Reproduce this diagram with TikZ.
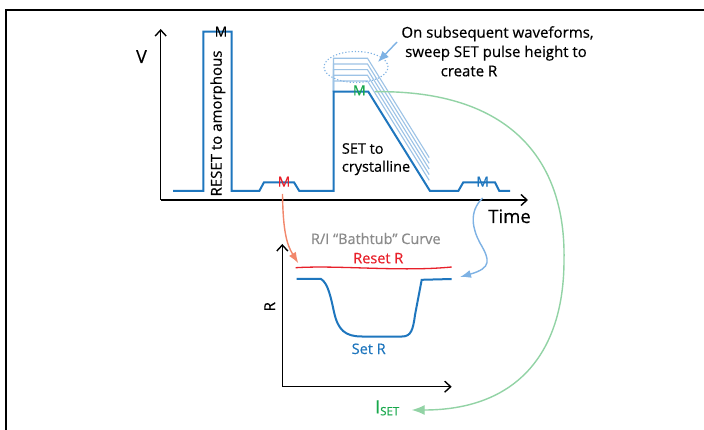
\documentclass[tikz,border=0pt]{standalone}
\usepackage{fontspec}
\setmainfont{Open Sans}[FakeBold=0.45]
\usetikzlibrary{arrows.meta}
\definecolor{mainblue}{HTML}{1E76BE}
\definecolor{lightblue}{HTML}{9DC3E6}
\definecolor{arrowblue}{HTML}{7EB2E4}
\definecolor{mgreen}{HTML}{17A84B}
\definecolor{lgreen}{HTML}{92D3A5}
\definecolor{mred}{HTML}{E8202A}
\definecolor{salmon}{HTML}{F2876B}
\definecolor{tgray}{HTML}{8A8A8A}
\begin{document}
\begin{tikzpicture}[x=1pt,y=-1pt,
  wave/.style={mainblue, line width=2pt, line join=miter},
  sweep/.style={lightblue, line width=1.1pt},
  axis/.style={black, line width=1.4pt, -{Straight Barb[length=6pt,width=11pt]}},
  lbl/.style={inner sep=0pt, anchor=base},
  mk/.style={lbl, font=\fontsize{14}{14}\selectfont},
  txt/.style={lbl, font=\fontsize{14.5}{18}\selectfont},
  conn/.style={line width=1.4pt},
]
\useasboundingbox (0,0) rectangle (704,430);
\fill[white] (0,0) rectangle (704,430);
\draw[line width=2pt] (706,10) -- (6,10) -- (6,432);

% top chart axes
\coordinate (O1) at (160.7,200);
\coordinate (Vtop) at (160.7,29);
\coordinate (Tend) at (528,200);
\draw[axis] (O1) -- (Vtop);
\draw[axis] (O1) -- (Tend);
\node[lbl, font=\fontsize{18}{18}\selectfont] (V) at (141.5,63) {V};
\node[lbl, font=\fontsize{18.5}{18.5}\selectfont] (time) at (509.5,223) {Time};

% sweep lines
\foreach \y in {58.3,64,69.7,75.3,81}{
  \draw[sweep] (333.5,91.7) -- (333.5,\y) -- (367.5,\y) -- ++(61.7,99.3);
}
\draw[arrowblue, line width=1.1pt, dash pattern=on 1.2pt off 2pt] (356,67) ellipse [x radius=32pt, y radius=15.5pt];

% main waveform
\draw[wave] (173,191) -- (203.3,191) -- (203.3,31.7) -- (231.7,31.7) -- (231.7,191)
  -- (259.3,191) -- (264,182.3) -- (294,182.3) -- (299.3,191) -- (333.5,191)
  -- (333.5,91.7) -- (368.3,91.7) -- (430,191) -- (458.3,191) -- (463.3,182.3)
  -- (495,182.3) -- (499.3,191) -- (510,191);

% M markers
\node[mk] (Mk) at (221,36.7) {M};
\node[mk, text=mred] (Mr) at (284,186.7) {M};
\node[mk, text=mgreen] (Mg) at (359.3,95.3) {M};
\node[mk, text=mainblue] (Mb) at (482.7,186.7) {M};

\node[lbl, rotate=90, font=\fontsize{15}{15}\selectfont] (reset) at (221.7,123.5) {RESET to amorphous};
\node[txt, anchor=base west, align=left] (set) at (341.7,171.7) {SET to\\crystalline};

% annotation
\node[lbl, font=\fontsize{15}{15}\selectfont] (a1) at (497.5,37.7) {On subsequent waveforms,};
\node[lbl, font=\fontsize{15}{15}\selectfont] (a2) at (496,57) {sweep SET pulse height to};
\node[lbl, font=\fontsize{15}{15}\selectfont] (a3) at (469,76.3) {create R};
\coordinate (annS) at (397,42);
\coordinate (annE) at (378,62);
\draw[arrowblue, conn, -{Latex[length=11pt,width=9pt]}] (annS) -- (annE);

% bottom chart
\coordinate (O2) at (282.3,386.7);
\coordinate (Rtop) at (282.3,244);
\coordinate (Iend) at (451.7,386.7);
\draw[axis] (O2) -- (Rtop);
\draw[axis] (O2) -- (Iend);
\node[lbl, rotate=90, font=\fontsize{15}{15}\selectfont] (Rlbl) at (275,306.7) {R};
\node[txt, text=tgray] (bath) at (375.8,244) {R/I “Bathtub” Curve};
\node[txt, text=mred] (resetR) at (378.3,263.3) {Reset R};
\node[txt, text=mainblue] (setR) at (368.7,354) {Set R};
\node[lbl, anchor=base west, text=mgreen] (iset) at (375,413.3) {\fontsize{18}{18}\selectfont I\fontsize{11.5}{11.5}\selectfont\raisebox{-2pt}{SET}};

\draw[mred, line width=1.3pt] (295.7,267.7) .. controls (340,265) and (400,272) .. (451.7,267);
\draw[mainblue, line width=2pt] (296.5,279) -- (321,279) .. controls (328,283) and (331,298) .. (334,312)
  .. controls (338,330) and (345,336.5) .. (362,336.5) -- (402,336.5)
  .. controls (411,336.5) and (413,330) .. (415,315) -- (421.7,279.8) -- (451.7,279);

% connectors
\coordinate (rs) at (282.5,194);
\coordinate (re) at (298.3,263.3);
\draw[salmon, conn, -{Latex[length=11pt,width=8pt]}] (rs) .. controls (283,232) and (287,245) .. (re);
\coordinate (bs) at (482.7,198);
\coordinate (be) at (460,277);
\draw[arrowblue, conn, -{Latex[length=11pt,width=8pt]}] (bs) .. controls (468,212) and (473,230) .. (480,243)
  .. controls (490,260) and (492,268) .. (be);
\coordinate (gs) at (375,91.7);
\coordinate (ge) at (411.7,410);
\draw[lgreen, conn, -{Latex[length=13pt,width=10pt]}] (gs) .. controls (510,90) and (566,160) .. (564,260)
  .. controls (564,355) and (515,410) .. (ge);
\end{tikzpicture}
\end{document}
